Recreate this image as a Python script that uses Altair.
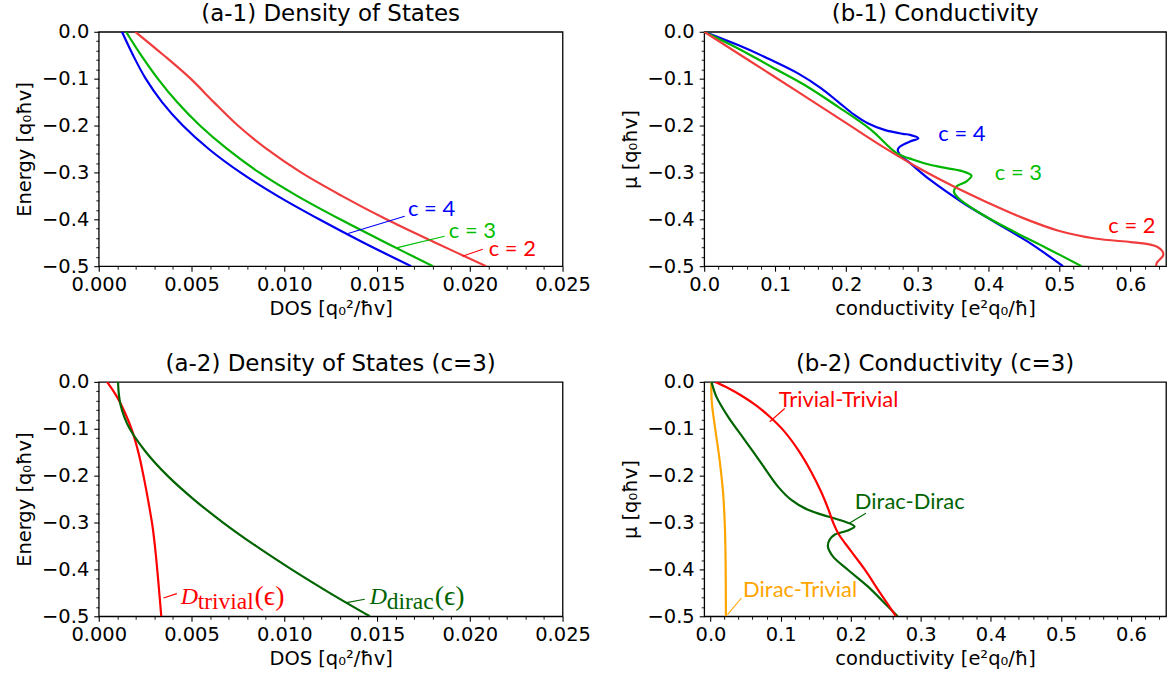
import altair as alt
import pandas as pd

FONT = "DejaVu Sans"
ANN_FONT = "Lato"
MATH_FONT = "Liberation Serif"

# ---------------- (a-1) Density of states, c = 2, 3, 4 ----------------
A1_E = [0, -0.05, -0.1, -0.15, -0.2, -0.25, -0.3, -0.35, -0.4, -0.45, -0.5]
A1_DOS_C4 = [0.00125, 0.00185, 0.00253, 0.00341, 0.00453, 0.00593, 0.00763, 0.00963, 0.01188, 0.01428, 0.01684]
A1_DOS_C3 = [0.00147, 0.00228, 0.00318, 0.00422, 0.00545, 0.00692, 0.00864, 0.01069, 0.01301, 0.01548, 0.01801]
A1_DOS_C2 = [0.00197, 0.00350, 0.00495, 0.00620, 0.00750, 0.00905, 0.01090, 0.01310, 0.01550, 0.01815, 0.02088]

# ---------------- (b-1) Conductivity, c = 2, 3, 4 ----------------
B1_C4_X = [0.0, 0.0477, 0.0945, 0.132, 0.1647, 0.1881, 0.2115, 0.2302, 0.2537, 0.2794, 0.2897, 0.3014,
           0.2897, 0.2756, 0.2724, 0.2756, 0.2897, 0.3177, 0.3646, 0.4113, 0.4581, 0.505]
B1_C4_Y = [0.0, -0.0284, -0.0603, -0.0887, -0.1206, -0.1489, -0.1773, -0.195, -0.2092, -0.2177, -0.2199, -0.227,
           -0.234, -0.2447, -0.2518, -0.2624, -0.2801, -0.3156, -0.3652, -0.4078, -0.4504, -0.5]
B1_C3_X = [0.0, 0.0477, 0.0945, 0.1413, 0.1881, 0.2349, 0.271, 0.2944, 0.3177, 0.3411, 0.3646, 0.3762,
           0.3692, 0.3552, 0.3514, 0.3576, 0.3879, 0.4348, 0.4815, 0.531]
B1_C3_Y = [0.0, -0.0355, -0.0745, -0.1135, -0.1596, -0.2092, -0.2589, -0.273, -0.2837, -0.2908, -0.2979, -0.3071,
           -0.3191, -0.3298, -0.3404, -0.3546, -0.3865, -0.4255, -0.461, -0.5]
B1_C2_X = [0.0, 0.1, 0.2, 0.25, 0.3, 0.35, 0.4, 0.45, 0.5, 0.55, 0.6, 0.625, 0.638, 0.645, 0.646, 0.641,
           0.637, 0.636]
B1_C2_Y = [0.0, -0.097, -0.195, -0.244, -0.289, -0.329, -0.365, -0.398, -0.425, -0.441, -0.4485, -0.453,
           -0.459, -0.468, -0.477, -0.486, -0.493, -0.5]

# ---------------- (a-2) Density of states, c = 3 ----------------
A2_TRIV_X = [0.000448, 0.000985, 0.00143, 0.00179, 0.00215, 0.00242, 0.00269, 0.0029, 0.00305, 0.00317, 0.00328, 0.00337]
A2_TRIV_Y = [0.0, -0.0319, -0.0674, -0.1028, -0.1525, -0.2021, -0.2589, -0.3085, -0.3582, -0.4078, -0.4574, -0.5]
A2_DIRAC_X = [0.00104, 0.00108, 0.00118, 0.00138, 0.00167, 0.00255, 0.0037, 0.0051, 0.0067, 0.00847, 0.01039, 0.01244, 0.01461]
A2_DIRAC_Y = [0.0, -0.025, -0.05, -0.075, -0.1, -0.15, -0.2, -0.25, -0.3, -0.35, -0.4, -0.45, -0.5]

# ---------------- (b-2) Conductivity, c = 3 ----------------
B2_TT_X = [0.0068, 0.025, 0.045, 0.065, 0.085, 0.105, 0.125, 0.143, 0.158, 0.169, 0.175, 0.183, 0.2, 0.22,
           0.242, 0.2647]
B2_TT_Y = [0.0, -0.013, -0.03, -0.05, -0.075, -0.105, -0.145, -0.19, -0.235, -0.275, -0.3, -0.325, -0.36, -0.4,
           -0.45, -0.5]
B2_DD_X = [0.0014, 0.0085, 0.0252, 0.0489, 0.0726, 0.0963, 0.1153, 0.139, 0.1675, 0.1913, 0.2055, 0.196, 0.177,
           0.1699, 0.1675, 0.1746, 0.196, 0.2244, 0.2529, 0.2671]
B2_DD_Y = [0.0, -0.0319, -0.0745, -0.1241, -0.1738, -0.2234, -0.2518, -0.273, -0.2872, -0.2979, -0.3085, -0.317,
           -0.3262, -0.3369, -0.3511, -0.3723, -0.4007, -0.4362, -0.4787, -0.5]
B2_DT_X = [0.001, 0.002, 0.007, 0.013, 0.018, 0.0205, 0.0215, 0.022]
B2_DT_Y = [0.0, -0.046, -0.1028, -0.1667, -0.2376, -0.3085, -0.3794, -0.5]

# ---------------- axes ----------------
Y_DOM = [-0.5, 0.0]
Y_MAJOR = [0.0, -0.1, -0.2, -0.3, -0.4, -0.5]
Y_MINOR = [-0.02, -0.04, -0.06, -0.08, -0.12, -0.14, -0.16, -0.18, -0.22, -0.24, -0.26, -0.28,
           -0.32, -0.34, -0.36, -0.38, -0.42, -0.44, -0.46, -0.48]
A_XDOM = [0.0, 0.025]
A_XMAJOR = [0.0, 0.005, 0.010, 0.015, 0.020, 0.025]
A_XMINOR = [0.001, 0.002, 0.003, 0.004, 0.006, 0.007, 0.008, 0.009, 0.011, 0.012, 0.013, 0.014,
            0.016, 0.017, 0.018, 0.019, 0.021, 0.022, 0.023, 0.024]
B1_XDOM = [0.0, 0.65]
B2_XDOM = [-0.009, 0.65]
B_XMAJOR = [0.0, 0.1, 0.2, 0.3, 0.4, 0.5, 0.6]
B_XMINOR = [0.02, 0.04, 0.06, 0.08, 0.12, 0.14, 0.16, 0.18, 0.22, 0.24, 0.26, 0.28, 0.32, 0.34, 0.36, 0.38,
            0.42, 0.44, 0.46, 0.48, 0.52, 0.54, 0.56, 0.58, 0.62, 0.64]

# annotations: (text, x, y, color)
A1_LABELS = [("c = 4", 0.01667, -0.379, "#0000FF"), ("c = 3", 0.01887, -0.4245, "#00BE00"),
             ("c = 2", 0.02102, -0.4628, "#FF0000")]
A1_LEADERS = [(0.01649, -0.3936, 0.01344, -0.4304, "#0000FF"), (0.01864, -0.4362, 0.01604, -0.461, "#00BE00"),
              (0.0207, -0.4638, 0.0196, -0.4787, "#FF0000")]
B1_LABELS = [("c = 4", 0.3295, -0.219, "#0000FF"), ("c = 3", 0.409, -0.3014, "#00BE00"),
             ("c = 2", 0.5688, -0.4137, "#FF0000")]
B2_LABELS = [("Trivial-Trivial", 0.0973, -0.039, "#FF0000"), ("Dirac-Dirac", 0.206, -0.2567, "#006400"),
             ("Dirac-Trivial", 0.0465, -0.4433, "#FFA500")]
B2_LEADERS = [(0.1059, -0.0568, 0.0845, -0.0851, "#FF0000"), (0.2217, -0.2801, 0.198, -0.3014, "#006400"),
              (0.0441, -0.461, 0.0242, -0.4964, "#FFA500")]
A2_MATH = [("trivial", 0.00442, -0.473, "#FF0000"), ("dirac", 0.01461, -0.473, "#006400")]
A2_LEADERS = [(0.00421, -0.4517, 0.00349, -0.4611, "#FF0000"), (0.01434, -0.4638, 0.01335, -0.4709, "#006400")]

LINE_W = 2.2


def curve_df(xs, ys):
    return pd.DataFrame({"x": xs, "y": ys, "i": list(range(len(xs)))})


def make_panel(title, curves, xdom, xmajor, xminor, xfmt, xtitle, ytitle, width,
               labels=(), leaders=(), math=()):
    xs = alt.Scale(domain=xdom, nice=False, zero=False)
    ys = alt.Scale(domain=Y_DOM, nice=False, zero=False)
    common = dict(labelFont=FONT, labelFontSize=19.5, titleFont=FONT, titleFontSize=19.5,
                  titleFontWeight="normal", tickColor="black", tickWidth=1.1, domain=False,
                  grid=False, labelColor="black", titleColor="black", labelFlush=False,
                  labelOverlap=False)
    d0 = curve_df(*curves[0][:2])
    base = alt.Chart(d0).mark_line(opacity=0).encode(
        x=alt.X("x:Q", scale=xs, axis=alt.Axis(values=xmajor, format=xfmt, title=xtitle, orient="bottom",
                                              tickSize=5, labelPadding=4, titlePadding=6, **common)),
        y=alt.Y("y:Q", scale=ys, axis=alt.Axis(values=Y_MAJOR, format=".1f", title=ytitle, orient="left",
                                              tickSize=5, labelPadding=5, titlePadding=7, **common)),
    )
    minor_common = dict(labels=False, title=None, domain=False, grid=False, tickColor="black",
                        tickWidth=0.9, tickSize=3)
    minor = alt.Chart(d0).mark_line(opacity=0).encode(
        x=alt.X("x:Q", scale=xs, axis=alt.Axis(values=xminor, orient="bottom", **minor_common)),
        y=alt.Y("y:Q", scale=ys, axis=alt.Axis(values=Y_MINOR, orient="left", **minor_common)),
    )
    layers = [base, minor]
    for cx, cy, color in curves:
        layers.append(
            alt.Chart(curve_df(cx, cy)).mark_line(color=color, strokeWidth=LINE_W, interpolate="catmull-rom",
                                                  clip=True).encode(
                x=alt.X("x:Q", scale=xs, axis=None),
                y=alt.Y("y:Q", scale=ys, axis=None),
                order="i:Q",
            )
        )
    for (x1, y1, x2, y2, color) in leaders:
        layers.append(
            alt.Chart(pd.DataFrame({"x": [x1], "y": [y1], "x2": [x2], "y2": [y2]})).mark_rule(
                color=color, strokeWidth=1.1).encode(
                x=alt.X("x:Q", scale=xs, axis=None), y=alt.Y("y:Q", scale=ys, axis=None),
                x2="x2:Q", y2="y2:Q")
        )
    for (txt, x, y, color) in labels:
        layers.append(
            alt.Chart(pd.DataFrame({"x": [x], "y": [y], "t": [txt]})).mark_text(
                align="left", baseline="middle", font=ANN_FONT, fontSize=22, color=color).encode(
                x=alt.X("x:Q", scale=xs, axis=None), y=alt.Y("y:Q", scale=ys, axis=None), text="t:N")
        )
    for (sub, x, y, color) in math:
        df = pd.DataFrame({"x": [x], "y": [y], "D": ["D"], "s": [sub], "e": ["(ϵ)"]})
        enc = dict(x=alt.X("x:Q", scale=xs, axis=None), y=alt.Y("y:Q", scale=ys, axis=None))
        layers.append(alt.Chart(df).mark_text(align="left", baseline="alphabetic", font=MATH_FONT,
                                              fontStyle="italic", fontSize=24, color=color).encode(text="D:N", **enc))
        layers.append(alt.Chart(df).mark_text(align="left", baseline="alphabetic", font=MATH_FONT,
                                              fontSize=23.5, color=color, dx=17, dy=5).encode(text="s:N", **enc))
        sub_w = 57 if sub == "trivial" else 48
        layers.append(alt.Chart(df).mark_text(align="left", baseline="alphabetic", font=MATH_FONT,
                                              fontSize=28, color=color, dx=17 + sub_w, dy=1).encode(text="e:N", **enc))
    return alt.layer(*layers).resolve_axis(x="independent", y="independent").properties(
        width=width, height=235,
        title=alt.TitleParams(title, font=FONT, fontSize=23, fontWeight="normal", color="black",
                              offset=-4, frame="group", anchor="middle"),
    )


a1 = make_panel("(a-1) Density of States",
                [(A1_DOS_C4, A1_E, "#0000F0"), (A1_DOS_C3, A1_E, "#00B400"), (A1_DOS_C2, A1_E, "#F03C3C")],
                A_XDOM, A_XMAJOR, A_XMINOR, ".3f", "DOS [q₀²/ħv]", "Energy [q₀ħv]", 465,
                labels=A1_LABELS, leaders=A1_LEADERS)
b1 = make_panel("(b-1) Conductivity",
                [(B1_C4_X, B1_C4_Y, "#0000F0"), (B1_C3_X, B1_C3_Y, "#00B400"), (B1_C2_X, B1_C2_Y, "#F03C3C")],
                B1_XDOM, B_XMAJOR, B_XMINOR, ".1f", "conductivity [e²q₀/ħ]", "μ [q₀ħv]", 463,
                labels=B1_LABELS)
a2 = make_panel("(a-2) Density of States (c=3)",
                [(A2_TRIV_X, A2_TRIV_Y, "#FF0000"), (A2_DIRAC_X, A2_DIRAC_Y, "#006400")],
                A_XDOM, A_XMAJOR, A_XMINOR, ".3f", "DOS [q₀²/ħv]", "Energy [q₀ħv]", 465,
                leaders=A2_LEADERS, math=A2_MATH)
b2 = make_panel("(b-2) Conductivity (c=3)",
                [(B2_DT_X, B2_DT_Y, "#FFA500"), (B2_DD_X, B2_DD_Y, "#006400"), (B2_TT_X, B2_TT_Y, "#FF0000")],
                B2_XDOM, B_XMAJOR, B_XMINOR, ".1f", "conductivity [e²q₀/ħ]", "μ [q₀ħv]", 463,
                labels=B2_LABELS, leaders=B2_LEADERS)

chart = alt.concat(a1, b1, a2, b2, columns=2, spacing={"row": 116, "column": 142}, bounds="flush").properties(
    padding={"left": 13, "top": 1, "right": 5, "bottom": 5},
    background="white",
).configure_view(stroke="black", strokeWidth=1.3)

chart.save("out.html", embed_options={"renderer": "svg", "actions": False})
